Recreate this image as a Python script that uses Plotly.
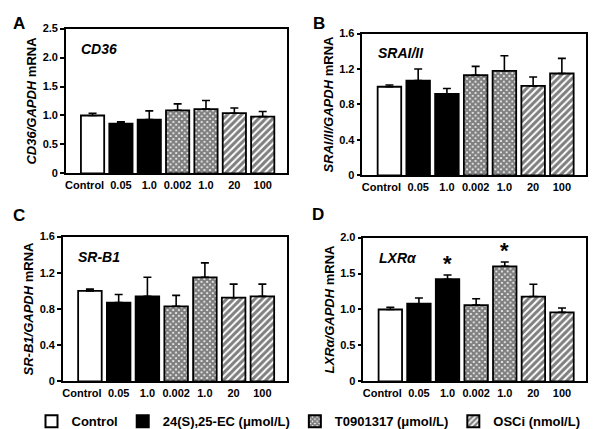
import plotly.graph_objects as go

categories = ["Control", "0.05", "1.0", "0.002", "1.0", "20", "100"]
groups = ["Control", "24(S),25-EC (μmol/L)", "24(S),25-EC (μmol/L)",
          "T0901317 (μmol/L)", "T0901317 (μmol/L)", "OSCi (nmol/L)", "OSCi (nmol/L)"]

cd36_mean = [1.00, 0.86, 0.93, 1.09, 1.11, 1.04, 0.98]
cd36_sem = [0.04, 0.03, 0.15, 0.11, 0.15, 0.09, 0.09]
sra_mean = [1.00, 1.07, 0.92, 1.13, 1.18, 1.01, 1.15]
sra_sem = [0.02, 0.13, 0.06, 0.10, 0.17, 0.10, 0.17]
srb1_mean = [1.00, 0.87, 0.94, 0.83, 1.15, 0.925, 0.94]
srb1_sem = [0.02, 0.09, 0.21, 0.12, 0.16, 0.15, 0.135]
lxr_mean = [1.00, 1.08, 1.42, 1.06, 1.60, 1.18, 0.96]
lxr_sem = [0.03, 0.08, 0.06, 0.09, 0.06, 0.17, 0.06]
lxr_sig = [False, False, True, False, True, False, False]

# label positions (category index); "Control" label sits slightly left of its bar
label_pos = [-0.28, 1, 2, 3, 4, 5, 6]

W, H = 600, 429
panels = [
    dict(letter="A", gene="CD36", ytitle="<i>CD36/GAPDH</i> mRNA", mean=cd36_mean, sem=cd36_sem,
         ymax=2.5, ticks=[0, 0.5, 1.0, 1.5, 2.0, 2.5], ticktext=["0", "0.5", "1.0", "1.5", "2.0", "2.5"],
         xd=[0.095, 0.4633], yd=[0.6177, 0.965], sig=None, lp=(2, 10)),
    dict(letter="B", gene="SRAI/II", ytitle="<i>SRAI/II/GAPDH</i> mRNA", mean=sra_mean, sem=sra_sem,
         ymax=1.6, ticks=[0, 0.4, 0.8, 1.2, 1.6], ticktext=["0", "0.4", "0.8", "1.2", "1.6"],
         xd=[0.59, 0.9633], yd=[0.613, 0.953], sig=None, lp=(303, 10)),
    dict(letter="C", gene="SR-B1", ytitle="<i>SR-B1/GAPDH</i> mRNA", mean=srb1_mean, sem=srb1_sem,
         ymax=1.6, ticks=[0, 0.4, 0.8, 1.2, 1.6], ticktext=["0", "0.4", "0.8", "1.2", "1.6"],
         xd=[0.09, 0.4633], yd=[0.1189, 0.4662], sig=None, lp=(2, 207)),
    dict(letter="D", gene="LXRα", ytitle="<i>LXRα/GAPDH</i> mRNA", mean=lxr_mean, sem=lxr_sem,
         ymax=2.0, ticks=[0, 0.5, 1.0, 1.5, 2.0], ticktext=["0", "0.5", "1.0", "1.5", "2.0"],
         xd=[0.5917, 0.9633], yd=[0.1189, 0.4639], sig=lxr_sig, lp=(302, 206)),
]

group_style = {
    "Control": dict(color="white", pattern=dict(shape="")),
    "24(S),25-EC (μmol/L)": dict(color="black", pattern=dict(shape="")),
    "T0901317 (μmol/L)": dict(color="white", pattern=dict(shape="x", size=4, solidity=0.8,
                                                        fgcolor="black", bgcolor="white", fillmode="overlay")),
    "OSCi (nmol/L)": dict(color="white", pattern=dict(shape="/", size=5, solidity=0.6,
                                                    fgcolor="black", bgcolor="white", fillmode="overlay")),
}
group_order = ["Control", "24(S),25-EC (μmol/L)", "T0901317 (μmol/L)", "OSCi (nmol/L)"]

FONT = "Arial, Liberation Sans, sans-serif"
fig = go.Figure()
layout = dict(width=W, height=H, margin=dict(l=0, r=0, t=0, b=0),
              paper_bgcolor="white", plot_bgcolor="white",
              font=dict(family=FONT, color="black"), barmode="overlay",
              showlegend=True,
              legend=dict(orientation="h", x=0.5, xanchor="center", y=0.023, yanchor="middle",
                          font=dict(family=FONT, size=13, color="black", weight="bold"),
                          itemsizing="constant", tracegroupgap=0, itemwidth=30))
annotations = []

for i, p in enumerate(panels):
    ax = "" if i == 0 else str(i + 1)
    xref, yref = "x" + ax, "y" + ax
    for g in group_order:
        idx = [k for k, gg in enumerate(groups) if gg == g]
        st = group_style[g]
        fig.add_trace(go.Bar(
            x=idx, y=[p["mean"][k] for k in idx], width=0.82,
            name=g, legendgroup=g, showlegend=(i == 0),
            marker=dict(color=st["color"], pattern=st["pattern"],
                        line=dict(color="black", width=1.8)),
            error_y=dict(type="data", symmetric=False, array=[p["sem"][k] for k in idx],
                         arrayminus=[0] * len(idx), color="black", thickness=1.6, width=4),
            xaxis=xref, yaxis=yref))
    layout["xaxis" + ax] = dict(domain=p["xd"], anchor=yref, range=[-0.94, 6.84],
                                tickvals=label_pos, ticktext=categories,
                                tickangle=0, ticklabelstandoff=1,
                                showline=True, linecolor="black", linewidth=1.5, mirror=True,
                                ticks="", showgrid=False, zeroline=False,
                                tickfont=dict(size=11, family=FONT, weight="bold"))
    layout["yaxis" + ax] = dict(domain=p["yd"], anchor=xref, range=[0, p["ymax"]],
                                tickvals=p["ticks"], ticktext=p["ticktext"],
                                showline=True, linecolor="black", linewidth=1.5, mirror=True,
                                ticks="outside", ticklen=4, tickwidth=1.5, tickcolor="black",
                                showgrid=False, zeroline=False,
                                tickfont=dict(size=11, family=FONT, weight="bold"),
                                title=dict(text=p["ytitle"], standoff=3,
                                           font=dict(size=13, family=FONT, weight="bold")))
    annotations.append(dict(text="<i>" + p["gene"] + "</i>", xref=xref + " domain", yref=yref + " domain",
                            x=0.06, y=0.86, xanchor="left", yanchor="middle", showarrow=False,
                            font=dict(size=14, family=FONT, weight="bold")))
    annotations.append(dict(text=p["letter"], xref="paper", yref="paper",
                            x=p["lp"][0] / W, y=1 - p["lp"][1] / H, xanchor="left", yanchor="middle",
                            showarrow=False, font=dict(size=17, family=FONT, weight="bold")))
    if p["sig"]:
        for k, s in enumerate(p["sig"]):
            if s:
                annotations.append(dict(text="*", xref=xref, yref=yref, x=k,
                                        y=p["mean"][k] + p["sem"][k], xanchor="center", yanchor="bottom",
                                        yshift=-3, showarrow=False,
                                        font=dict(size=22, family=FONT, weight="bold")))

layout["annotations"] = annotations
fig.update_layout(**layout)
fig.write_html("out.html")
